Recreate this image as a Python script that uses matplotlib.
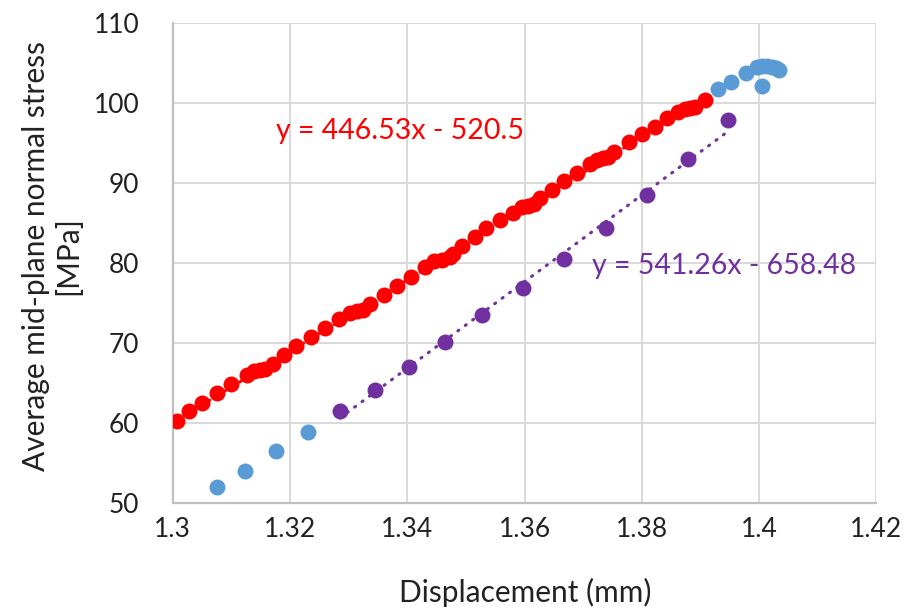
import numpy as np
import matplotlib
matplotlib.use('Agg')
import matplotlib.pyplot as plt

plt.rcParams['font.family'] = ['Lato', 'DejaVu Sans']

# red series (fitted part of the curve)
red_x = [1.3008, 1.3028, 1.3050, 1.3076, 1.3100, 1.3126, 1.3139, 1.3149, 1.3158, 1.3171,
         1.3190, 1.3211, 1.3235, 1.3260, 1.3284, 1.3302, 1.3315, 1.3325, 1.3336, 1.3360,
         1.3382, 1.3406, 1.3430, 1.3446, 1.3459, 1.3473, 1.3478, 1.3493, 1.3515, 1.3535,
         1.3558, 1.3580, 1.3595, 1.3606, 1.3616, 1.3626, 1.3646, 1.3667, 1.3690, 1.3711,
         1.3723, 1.3734, 1.3743, 1.3752, 1.3778, 1.3800, 1.3822, 1.3843, 1.3862, 1.3873,
         1.3882, 1.3891, 1.3908]
red_y = [60.25, 61.4, 62.5, 63.7, 64.8, 65.9, 66.4, 66.55, 66.7, 67.3,
         68.5, 69.6, 70.75, 71.8, 72.9, 73.75, 73.9, 74.1, 74.8, 76.0,
         77.1, 78.25, 79.4, 80.2, 80.35, 80.75, 81.1, 82.1, 83.25, 84.3,
         85.3, 86.25, 86.9, 87.1, 87.3, 88.05, 89.1, 90.2, 91.25, 92.3,
         92.8, 93.05, 93.25, 93.9, 95.1, 96.1, 97.0, 98.1, 98.9, 99.2,
         99.3, 99.5, 100.4]

# purple series
purple_x = [1.3285, 1.3345, 1.3403, 1.3464, 1.3528, 1.3598, 1.3668, 1.3738, 1.3809, 1.3878, 1.3947]
purple_y = [61.5, 64.1, 67.0, 70.05, 73.4, 76.8, 80.5, 84.3, 88.4, 93.0, 97.8]

# blue series (points outside the fits)
blue_x = [1.3076, 1.3124, 1.3176, 1.3231,
          1.3929, 1.3952, 1.3978, 1.3996, 1.4005, 1.4013, 1.4022, 1.4029, 1.4034, 1.4005]
blue_y = [52.0, 54.0, 56.4, 58.8,
          101.7, 102.6, 103.75, 104.45, 104.65, 104.65, 104.5, 104.3, 104.1, 102.1]

# trendline equations as printed on the chart
red_fit = (446.53, -520.5)
purple_fit = (541.26, -658.48)

red_col = '#FF0000'
purple_col = '#7030A0'
blue_col = '#5B9BD5'
text_col = '#222222'

fig = plt.figure(figsize=(9.11, 6.09), dpi=100)
ax = fig.add_axes([0.1896, 0.1746, 0.9621 - 0.1896, 0.9627 - 0.1746])

ms = 132
ax.scatter(blue_x, blue_y, s=ms, color=blue_col, linewidths=0, zorder=3)
ax.scatter(red_x, red_y, s=ms, color=red_col, linewidths=0, zorder=3)
ax.scatter(purple_x, purple_y, s=ms, color=purple_col, linewidths=0, zorder=3)

# dotted trendlines over the data range
for xs, fit, col in [(red_x, red_fit, red_col), (purple_x, purple_fit, purple_col)]:
    xx = np.array([min(xs), max(xs)])
    ax.plot(xx, fit[0] * xx + fit[1], color=col, linewidth=2.2,
            linestyle=(0, (0.4, 2.6)), dash_capstyle='round', zorder=2)

ax.text(1.3176, 96.46, 'y = 446.53x - 520.5', color=red_col, fontsize=20.5,
        ha='left', va='center')
ax.text(1.3715, 79.6, 'y = 541.26x - 658.48', color=purple_col, fontsize=20.5,
        ha='left', va='center')

ax.set_xlim(1.3, 1.42)
ax.set_ylim(50, 110)
ax.set_xticks(np.arange(1.3, 1.4201, 0.02))
ax.set_xticklabels(['1.3', '1.32', '1.34', '1.36', '1.38', '1.4', '1.42'])
ax.set_yticks(np.arange(50, 111, 10))

ax.grid(True, color='#D9D9D9', linewidth=1.4, zorder=0)
ax.set_axisbelow(True)
for s in ['top', 'right']:
    ax.spines[s].set_visible(False)
for s in ['left', 'bottom']:
    ax.spines[s].set_color('#BFBFBF')
    ax.spines[s].set_linewidth(1.6)
ax.tick_params(length=0, labelsize=19, labelcolor=text_col)
ax.tick_params(axis='y', pad=24)
ax.tick_params(axis='x', pad=10)

fig.text(525 / 911, 1 - 592 / 609, 'Displacement (mm)', fontsize=21.5,
         color=text_col, ha='center', va='center')
fig.text(52 / 911, 1 - 256 / 609, 'Average mid-plane normal stress\n[MPa]',
         fontsize=21.5, color=text_col, ha='center', va='center', rotation=90,
         multialignment='center', linespacing=1.2)

fig.savefig('out.png', dpi=100)
